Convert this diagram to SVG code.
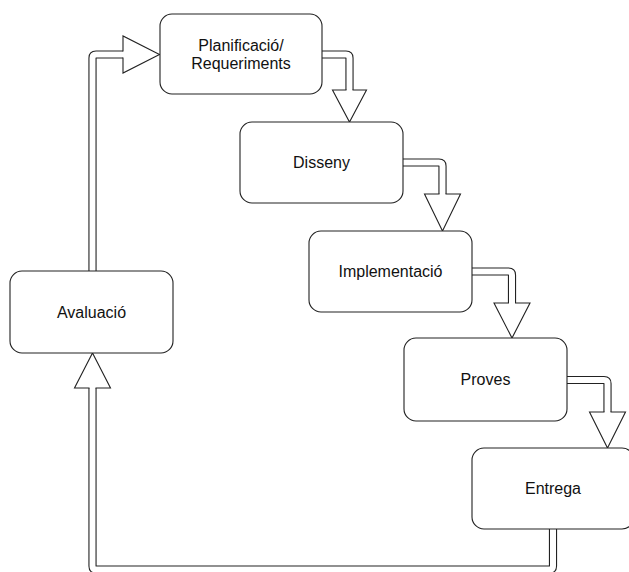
<svg xmlns="http://www.w3.org/2000/svg" width="629" height="572" viewBox="0 0 629 572">
<style>
.box{fill:#fff;stroke:#222;stroke-width:1.1}
.lbl{font-family:"Liberation Sans",Arial,sans-serif;font-size:16px;fill:#111;text-anchor:middle}
.so{fill:none;stroke:#222;stroke-width:8.2;stroke-linejoin:round}
.si{fill:none;stroke:#fff;stroke-width:6;stroke-linejoin:round}
.hd{fill:#fff;stroke:#222;stroke-width:1.1;stroke-linejoin:miter}
</style>
<rect width="629" height="572" fill="#fff"/>
<g id="connectors">
  <!-- Planificacio -> Disseny -->
  <path class="so" d="M318,54.5 H346 Q349.5,54.5 349.5,58 V90"/>
  <path class="si" d="M318,54.5 H346 Q349.5,54.5 349.5,58 V90.5"/>
  <path class="hd" d="M346.5,90 L332.5,90 L349.5,122 L366.5,90 L352.5,90"/>
  <!-- Disseny -> Implementacio -->
  <path class="so" d="M399,162.5 H439 Q442.5,162.5 442.5,166 V194"/>
  <path class="si" d="M399,162.5 H439 Q442.5,162.5 442.5,166 V194.5"/>
  <path class="hd" d="M439.5,194 L424.5,194 L442.5,231 L460.5,194 L445.5,194"/>
  <!-- Implementacio -> Proves -->
  <path class="so" d="M468,271.5 H508.5 Q512,271.5 512,275 V303"/>
  <path class="si" d="M468,271.5 H508.5 Q512,271.5 512,275 V303.5"/>
  <path class="hd" d="M509,303 L494,303 L512,338 L530,303 L515,303"/>
  <!-- Proves -> Entrega -->
  <path class="so" d="M563,380 H604 Q607.5,380 607.5,383.5 V412"/>
  <path class="si" d="M563,380 H604 Q607.5,380 607.5,383.5 V412.5"/>
  <path class="hd" d="M604.5,412 L589.5,412 L607.5,448 L625.5,412 L610.5,412"/>
  <!-- Entrega -> Avaluacio -->
  <path class="so" d="M553,525 V566 Q553,569.5 549.5,569.5 H96 Q92.5,569.5 92.5,566 V388"/>
  <path class="si" d="M553,525 V566 Q553,569.5 549.5,569.5 H96 Q92.5,569.5 92.5,566 V387.5"/>
  <path class="hd" d="M89.5,388 L74.5,388 L92.5,353 L110.5,388 L95.5,388"/>
  <!-- Avaluacio -> Planificacio -->
  <path class="so" d="M92.5,274 V58 Q92.5,54.5 96,54.5 H123"/>
  <path class="si" d="M92.5,274 V58 Q92.5,54.5 96,54.5 H123.5"/>
  <path class="hd" d="M123,51.5 L123,36 L159.5,54.5 L123,73 L123,57.5"/>
</g>
<g id="node-planificacio">
  <rect class="box" x="160" y="14" width="162" height="80" rx="12"/>
  <text class="lbl" x="241" y="51">Planificació/</text>
  <text class="lbl" x="241" y="69">Requeriments</text>
</g>
<g id="node-disseny">
  <rect class="box" x="240" y="122" width="163" height="81" rx="12"/>
  <text class="lbl" x="321.5" y="168.3">Disseny</text>
</g>
<g id="node-implementacio">
  <rect class="box" x="309" y="231" width="163" height="81" rx="12"/>
  <text class="lbl" x="390.5" y="277.3">Implementació</text>
</g>
<g id="node-proves">
  <rect class="box" x="404" y="338" width="163" height="83" rx="12"/>
  <text class="lbl" x="485.5" y="385.3">Proves</text>
</g>
<g id="node-entrega">
  <rect class="box" x="472" y="448" width="162" height="81" rx="12"/>
  <text class="lbl" x="553" y="494.3">Entrega</text>
</g>
<g id="node-avaluacio">
  <rect class="box" x="10" y="271" width="163" height="82" rx="12"/>
  <text class="lbl" x="91.5" y="317.8">Avaluació</text>
</g>
</svg>
